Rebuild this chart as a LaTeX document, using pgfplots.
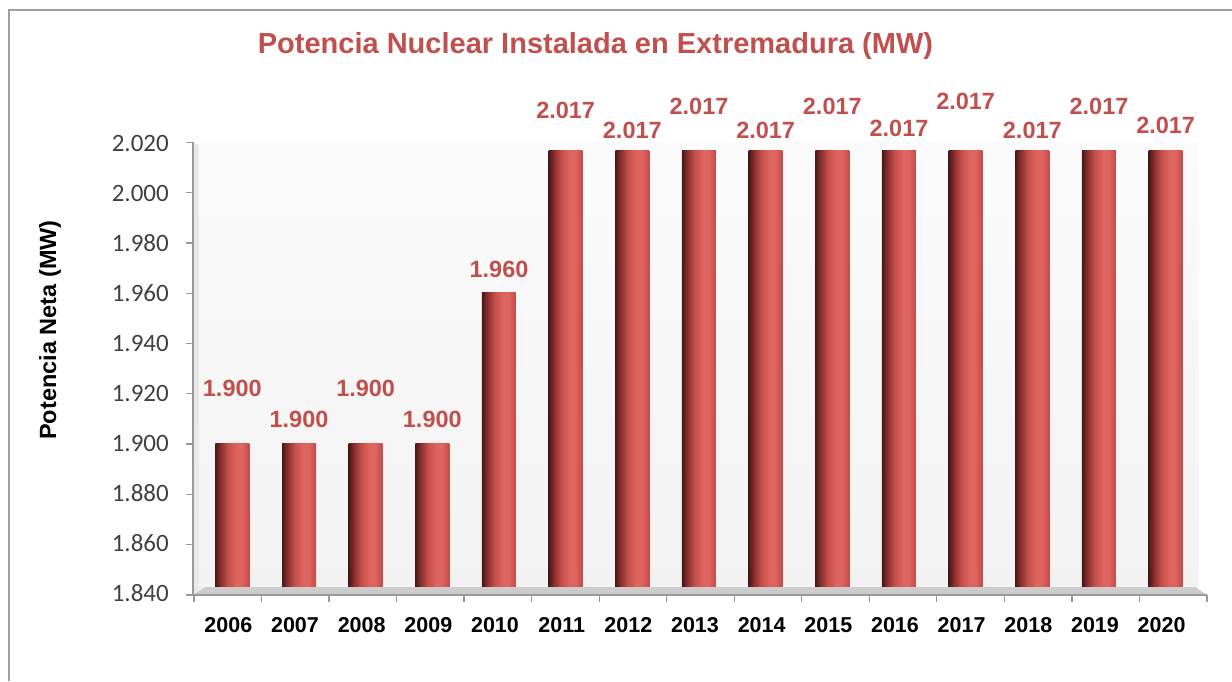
\documentclass[border=0pt]{standalone}
\usepackage{pgfplots}
\usepackage{pgfplotstable}
\pgfplotsset{compat=1.18}
\usepackage{fontspec}
\setmainfont{Liberation Sans}
\newfontfamily\carlito{Carlito}
\definecolor{tred}{HTML}{C0504D}
\definecolor{tickgray}{HTML}{404040}
\definecolor{cA}{HTML}{4A1818}
\definecolor{cB}{HTML}{8A2F2D}
\definecolor{cC}{HTML}{C6504D}
\definecolor{cD}{HTML}{DE6460}
\definecolor{cE}{HTML}{C24B48}
\definecolor{wallL}{HTML}{FBFBFB}
\definecolor{wallD}{HTML}{F2F2F2}
\pgfdeclarehorizontalshading{cyl}{100bp}{color(0bp)=(cA); color(25bp)=(cA); color(33bp)=(cB); color(44bp)=(cC); color(56bp)=(cD); color(64bp)=(cD); color(75bp)=(cE); color(100bp)=(cE)}

\pgfplotstableread{
x y off
0 1900 55
1 1900 24
2 1900 55
3 1900 24
4 1960 24
5 2017 40
6 2017 20
7 2017 44
8 2017 20
9 2017 44
10 2017 22
11 2017 49
12 2017 20
13 2017 44
14 2017 25
}\datatable

\begin{document}
\begin{tikzpicture}[x=1pt,y=1pt]
\path[use as bounding box] (0,0) rectangle (1232,681);
\draw[gray!75, line width=1.6pt] (9,0) -- (9,671) -- (1232,671);
\node[font=\bfseries\fontsize{29}{34}\selectfont, text=tred] at (595.5,635) {Potencia Nuclear Instalada en Extremadura (MW)};
\node[rotate=90, font=\bfseries\fontsize{23.5}{28}\selectfont] at (50,351) {Potencia Neta (MW)};
% left wall
\fill[gray!18] (193,86) -- (193,539) -- (205,532) -- (205,94) -- cycle;
\begin{axis}[
  at={(199pt,88pt)}, anchor=south west,
  scale only axis, width=1000pt, height=450pt,
  xmin=-0.5, xmax=14.5, ymin=1840, ymax=2020,
  ytick={1840,1860,...,2020},
  xtick={0,...,14},
  xticklabels={2006,2007,2008,2009,2010,2011,2012,2013,2014,2015,2016,2017,2018,2019,2020},
  axis line style={draw=none},
  major tick length=0pt,
  tick style={draw=none},
  axis background/.style={top color=wallL, bottom color=wallD},
  /pgf/number format/1000 sep={.},
  /pgf/number format/assume math mode=true,
  yticklabel style={font=\carlito\fontsize{25}{30}\selectfont, text=tickgray, anchor=east, inner sep=0pt, xshift=-30pt},
  xticklabel style={font=\bfseries\fontsize{21.5}{26}\selectfont, text=black, anchor=north, inner sep=0pt, yshift=-24pt, xshift=-4pt},
  clip mode=individual,
]
\pgfplotsinvokeforeach{0,...,14}{
\addplot[ybar, bar width=34pt, bar shift=0pt, draw=none, shading=cyl,
  restrict x to domain=#1:#1,
  visualization depends on={\thisrow{off} \as \myoff},
  nodes near coords={\pgfmathprintnumber[fixed,precision=0,1000 sep={.}]{\pgfplotspointmeta}},
  nodes near coords style={font=\bfseries\fontsize{23.5}{28}\selectfont, text=tred, anchor=center, inner sep=0pt, yshift=\myoff pt},
] table[x=x,y=y] {\datatable};
}
\end{axis}
% floor
\fill[gray!40] (193,86) -- (205,94) -- (1195,94) -- (1207,86) -- cycle;
% axes lines
\draw[gray!80, line width=1.3pt] (193,86) -- (193,538.6);
\foreach \k in {0,...,9} { \draw[gray!80, line width=1.3pt] (186,86+50.29*\k) -- (193,86+50.29*\k); }
\draw[gray!80, line width=1.3pt] (193,86) -- (1207,86);
\foreach \k in {0,...,15} { \draw[gray!80, line width=1.3pt] (194+67.53*\k,86) -- (194+67.53*\k,79); }
\end{tikzpicture}
\end{document}
